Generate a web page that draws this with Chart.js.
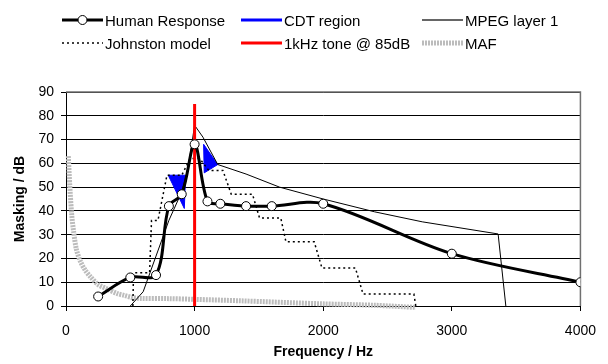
<!DOCTYPE html>
<html>
<head>
<meta charset="utf-8">
<script src="https://cdn.jsdelivr.net/npm/chart.js@4.4.1/dist/chart.umd.min.js"></script>
<style>
  body { margin: 0; background: #fff; }
  #wrap { position: relative; width: 608px; height: 364px; font-family: "Liberation Sans", Arial, sans-serif; }
  #chart { position: absolute; left: 0; top: 0; }
  .legend-item { position: absolute; display: flex; align-items: center; font-size: 15px; color: #000; white-space: nowrap; height: 20px; }
  .legend-item svg { margin-right: 2px; }
</style>
</head>
<body>
<div id="wrap">
  <canvas id="chart" width="608" height="364"></canvas>
  <div id="legend"></div>
</div>
<script>
// ---- data ----
const humanFreq = [250, 500, 700, 800, 900, 1000, 1100, 1200, 1400, 1600, 2000, 3000, 4000];
const humanMask = [4, 12, 13, 42, 47, 68, 44, 43, 42, 42, 43, 22, 10];

const johnstonFreq = [520, 525, 650, 665, 715, 785, 900, 965, 1040, 1110, 1220, 1285, 1450, 1505, 1670, 1710, 1930, 1990, 2250, 2310, 2705, 2720];
const johnstonMask = [0, 14, 14, 36, 36, 55, 55, 62, 62, 57, 57, 47, 47, 37, 37, 27, 27, 16, 16, 5, 5, 0];

const mpegFreq = [500, 600, 700, 800, 900, 950, 1000, 1065, 1180, 1400, 1660, 2000, 2400, 2770, 3360, 3420];
const mpegMask = [0, 6, 21, 36, 48, 58, 76, 71, 59.5, 55.5, 50, 45, 39.6, 35.4, 30.3, 0];

const toneFreq = [1000, 1000];
const toneMask = [0, 85];

const mafFreq = [18, 30, 45, 60, 80, 110, 150, 190, 250, 315, 400, 450, 520, 580, 800, 1000, 1350, 2000, 2400, 2720];
const mafMask = [63, 50, 38, 31, 24, 19, 15, 12.3, 9, 7.3, 5.2, 4.5, 3.5, 3.2, 3.1, 2.8, 2.2, 0.9, 0.3, -0.6];

// CDT region: two filled patches
const cdtFreqA = [795, 930, 920, 795];
const cdtMaskA = [55, 55, 41, 55];
const cdtFreqB = [1070, 1180, 1075, 1070];
const cdtMaskB = [68, 59.5, 56, 68];

const xTicks = [0, 1000, 2000, 3000, 4000];
const yTicks = [0, 10, 20, 30, 40, 50, 60, 70, 80, 90];

const pts = (xs, ys) => xs.map((x, i) => ({ x: x, y: ys[i] }));

const FONT = "'Liberation Sans', Arial, sans-serif";

// plot frame (right border + top)
const framePlugin = {
  id: "frame",
  beforeDatasetsDraw(chart) {
    const { ctx, chartArea: a } = chart;
    ctx.save();
    ctx.strokeStyle = "#707070";
    ctx.lineWidth = 1.5;
    ctx.beginPath();
    ctx.moveTo(a.left, a.top);
    ctx.lineTo(a.right, a.top);
    ctx.lineTo(a.right, a.bottom);
    ctx.stroke();
    ctx.restore();
  }
};

const ctx = document.getElementById("chart").getContext("2d");

const chart = new Chart(ctx, {
  type: "scatter",
  data: {
    datasets: [
      {
        label: "Human Response",
        data: pts(humanFreq, humanMask),
        showLine: true,
        borderColor: "#000",
        borderWidth: 3,
        tension: 0.33,
        pointRadius: 4.5,
        pointBackgroundColor: "#fff",
        pointBorderColor: "#000",
        pointBorderWidth: 1
      },
      {
        label: "1kHz tone @ 85dB",
        data: pts(toneFreq, toneMask),
        showLine: true,
        borderColor: "#ff0000",
        borderWidth: 3,
        pointRadius: 0
      },
      {
        label: "MPEG layer 1",
        data: pts(mpegFreq, mpegMask),
        showLine: true,
        borderColor: "#000",
        borderWidth: 1,
        pointRadius: 0
      },
      {
        label: "Johnston model",
        data: pts(johnstonFreq, johnstonMask),
        showLine: true,
        borderColor: "#000",
        borderWidth: 1.5,
        borderDash: [2, 3],
        pointRadius: 0
      },
      {
        label: "CDT region",
        data: pts(cdtFreqA, cdtMaskA),
        showLine: true,
        borderColor: "#0000ff",
        backgroundColor: "#0000ff",
        borderWidth: 1,
        fill: "shape",
        pointRadius: 0
      },
      {
        label: "CDT region (b)",
        data: pts(cdtFreqB, cdtMaskB),
        showLine: true,
        borderColor: "#0000ff",
        backgroundColor: "#0000ff",
        borderWidth: 1,
        fill: "shape",
        pointRadius: 0
      },
      {
        label: "MAF",
        data: pts(mafFreq, mafMask),
        showLine: true,
        borderColor: "#bcbcbc",
        borderWidth: 5,
        borderDash: [2, 1],
        tension: 0.3,
        pointRadius: 0,
        clip: 6
      }
    ]
  },
  options: {
    responsive: false,
    animation: false,
    layout: {
      padding: { left: 0, right: 26, top: 92, bottom: 0 }
    },
    plugins: {
      legend: { display: false },
      tooltip: { enabled: false }
    },
    scales: {
      x: {
        type: "linear",
        min: xTicks[0],
        max: xTicks[xTicks.length - 1],
        afterBuildTicks: (s) => { s.ticks = xTicks.map(v => ({ value: v })); },
        afterFit: (s) => { s.height = 58; },
        ticks: {
          color: "#000",
          padding: 12,
          font: { family: FONT, size: 14 },
          callback: (v) => String(v)
        },
        grid: {
          drawOnChartArea: false,
          drawTicks: true,
          tickLength: 5,
          color: "#000"
        },
        border: { color: "#000", width: 1 },
        title: {
          display: true,
          text: "Frequency / Hz",
          color: "#000",
          font: { family: FONT, size: 14, weight: "bold" },
          padding: { top: 4, bottom: 3 }
        }
      },
      y: {
        min: yTicks[0],
        max: yTicks[yTicks.length - 1],
        afterBuildTicks: (s) => { s.ticks = yTicks.map(v => ({ value: v })); },
        afterFit: (s) => { s.width = 66; },
        ticks: {
          color: "#000",
          padding: 7,
          font: { family: FONT, size: 14 },
          callback: (v) => String(v)
        },
        grid: {
          color: "#000",
          tickLength: 5
        },
        border: { color: "#000", width: 1 },
        title: {
          display: true,
          text: "Masking / dB",
          color: "#000",
          font: { family: FONT, size: 14, weight: "bold" },
          padding: { top: 12, bottom: 4 }
        }
      }
    }
  },
  plugins: [framePlugin]
});

// ---- HTML legend, laid out in 3 columns x 2 rows ----
const legendCols = [62, 241, 422];
const legendRows = [20, 43];
const legendLayout = [
  { label: "Human Response", col: 0, row: 0 },
  { label: "CDT region", col: 1, row: 0, width: 3 },
  { label: "MPEG layer 1", col: 2, row: 0, width: 1.5, color: "#333" },
  { label: "Johnston model", col: 0, row: 1 },
  { label: "1kHz tone @ 85dB", col: 1, row: 1 },
  { label: "MAF", col: 2, row: 1 }
];

const legendEl = document.getElementById("legend");
legendLayout.forEach(item => {
  const ds = chart.data.datasets.find(d => d.label === item.label);
  const w = 41;
  const dash = ds.borderDash ? ds.borderDash.join(",") : "none";
  const sw = item.width || ds.borderWidth;
  const col = item.color || ds.borderColor;
  let svg = '<svg width="' + w + '" height="12" viewBox="0 0 ' + w + ' 12">' +
    '<line x1="0" y1="6" x2="' + w + '" y2="6" stroke="' + col + '" stroke-width="' + sw + '" stroke-dasharray="' + dash + '"/>';
  if (ds.pointRadius > 0) {
    svg += '<circle cx="' + (w / 2) + '" cy="6" r="' + ds.pointRadius + '" fill="#fff" stroke="#000" stroke-width="1"/>';
  }
  svg += "</svg>";
  const div = document.createElement("div");
  div.className = "legend-item";
  div.style.left = legendCols[item.col] + "px";
  div.style.top = (legendRows[item.row] - 10) + "px";
  div.innerHTML = svg + "<span>" + item.label + "</span>";
  legendEl.appendChild(div);
});
</script>
</body>
</html>
